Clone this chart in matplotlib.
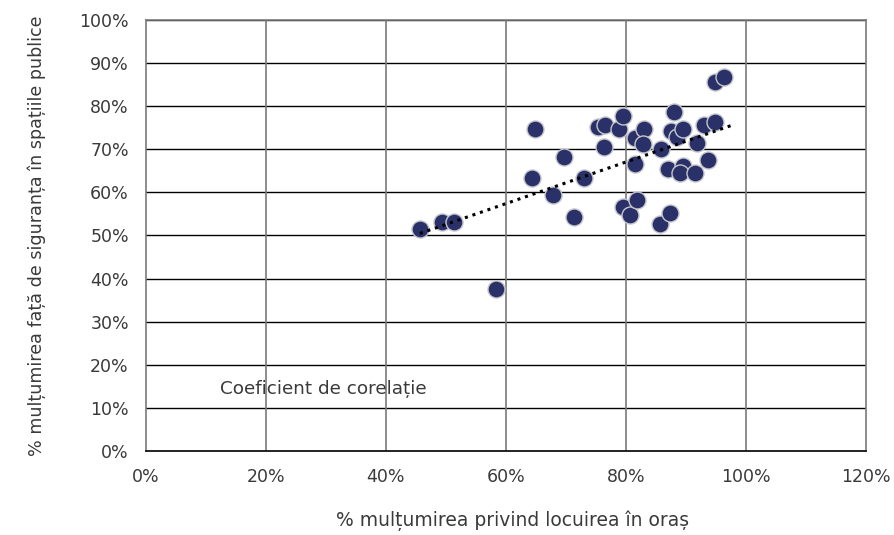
import matplotlib
matplotlib.use("Agg")
import matplotlib.pyplot as plt
from matplotlib.ticker import FuncFormatter
import numpy as np

# satisfaction with housing (x) vs. feeling of safety in public spaces (y), in %
locuire = [45.7, 49.4, 51.4, 58.4, 64.9, 64.4, 67.8, 69.7, 71.3, 73.0,
           75.4, 76.5, 76.4, 78.9, 79.5, 79.5, 80.7, 81.6, 81.6, 81.9,
           83.1, 82.9, 85.8, 85.7, 87.0, 87.3, 88.0, 87.6, 88.6, 89.5,
           89.5, 89.1, 91.6, 91.9, 93.1, 93.7, 94.9, 94.9, 96.4]
siguranta = [51.4, 53.1, 53.1, 37.6, 74.7, 63.3, 59.4, 68.3, 54.4, 63.3,
             75.2, 75.6, 70.5, 74.7, 77.7, 56.6, 54.8, 72.7, 66.6, 58.2,
             74.8, 71.2, 70.0, 52.7, 65.4, 55.2, 78.6, 74.3, 72.8, 74.8,
             66.2, 64.4, 64.4, 71.4, 75.6, 67.5, 76.4, 85.5, 86.8]

xticks = [0, 20, 40, 60, 80, 100, 120]
yticks = [0, 10, 20, 30, 40, 50, 60, 70, 80, 90, 100]

txt = "#3a3a3a"
plt.rcParams['font.family'] = ['DejaVu Sans']

fig = plt.figure(figsize=(8.94, 5.35), dpi=100)
ax = fig.add_axes([145.5/894, 1 - 451/535, (866 - 145.5)/894, (451 - 20)/535])

# grid: horizontal black, vertical grey
for y in yticks[1:]:
    ax.axhline(y, color="black", lw=1.0, zorder=1)
for x in xticks[1:-1]:
    ax.axvline(x, color="#7a7a7a", lw=1.2, zorder=1)

ax.scatter(locuire, siguranta, s=150, color="#2a3068", edgecolors="#c4c6cc",
           linewidths=1.0, zorder=3)

# linear trend line
k, b = np.polyfit(locuire, siguranta, 1)
xs = np.array([min(locuire), max(locuire) + 1.2])
ax.plot(xs, k * xs + b, color="black", lw=2.2, linestyle=(0, (1, 1.6)), zorder=4)

ax.text(12.4, 14.3, "Coeficient de corelație", fontsize=13.2, color=txt,
        va="center", ha="left", zorder=5)

ax.set_xlim(0, 120)
ax.set_ylim(0, 100)
ax.set_xticks(xticks)
ax.set_yticks(yticks)
pct = FuncFormatter(lambda v, p: f"{v:.0f}%")
ax.xaxis.set_major_formatter(pct)
ax.yaxis.set_major_formatter(pct)
ax.tick_params(length=0, labelsize=12.5, labelcolor=txt)
ax.tick_params(axis="x", pad=12)
ax.tick_params(axis="y", pad=12)

for side in ["left", "top", "right"]:
    ax.spines[side].set_color("#7a7a7a")
    ax.spines[side].set_linewidth(1.2)
ax.spines["bottom"].set_color("black")
ax.spines["bottom"].set_linewidth(1.2)

ax.set_xlabel("% mulțumirea privind locuirea în oraș", fontsize=13.5, color=txt)
ax.xaxis.set_label_coords(0.51, -0.137)
ax.set_ylabel("% mulțumirea față de siguranța în spațiile publice", fontsize=12.6,
              color=txt, labelpad=24)

fig.savefig("out.png", dpi=100)
